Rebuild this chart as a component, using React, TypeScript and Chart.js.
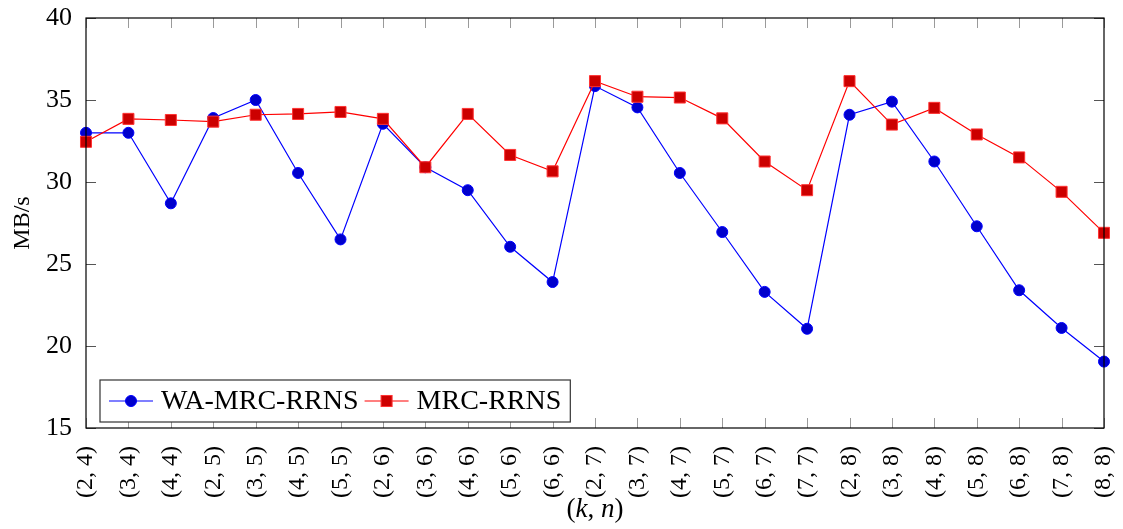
import { useEffect, useRef } from "react";
import { Chart, registerables } from "chart.js";

Chart.register(...registerables);

const categories = [
  "(2, 4)", "(3, 4)", "(4, 4)", "(2, 5)", "(3, 5)", "(4, 5)", "(5, 5)",
  "(2, 6)", "(3, 6)", "(4, 6)", "(5, 6)", "(6, 6)",
  "(2, 7)", "(3, 7)", "(4, 7)", "(5, 7)", "(6, 7)", "(7, 7)",
  "(2, 8)", "(3, 8)", "(4, 8)", "(5, 8)", "(6, 8)", "(7, 8)", "(8, 8)",
];

const waMrcRrns = [
  33.0, 33.0, 28.7, 33.9, 35.0, 30.55, 26.5,
  33.55, 30.9, 29.5, 26.05, 23.9,
  35.85, 34.55, 30.55, 26.95, 23.3, 21.05,
  34.1, 34.9, 31.25, 27.3, 23.4, 21.1, 19.05,
];

const mrcRrns = [
  32.45, 33.85, 33.78, 33.68, 34.1, 34.15, 34.27,
  33.85, 30.9, 34.15, 31.65, 30.65,
  36.15, 35.2, 35.15, 33.88, 31.25, 29.5,
  36.15, 33.5, 34.52, 32.9, 31.5, 29.4, 26.9,
];

const seriesLabels = ["WA-MRC-RRNS", "MRC-RRNS"];
const yAxisTitle = "MB/s";
const xTitleParts: [string, boolean][] = [["(", false], ["k", true], [", ", false], ["n", true], [")", false]];
const yMin = 15;
const yMax = 40;
const yStep = 5;

const FONT = "'Liberation Serif', 'DejaVu Serif', serif";

const framePlugin = {
  id: "frameTicks",
  afterDatasetsDraw(chart: any) {
    const { ctx, chartArea: a, scales } = chart;
    ctx.save();
    const tl = 10;
    ctx.strokeStyle = "#9a9a9a";
    ctx.lineWidth = 1;
    const xs = scales.x;
    for (let i = 0; i < xs.ticks.length; i++) {
      const px = Math.round(xs.getPixelForTick(i)) + 0.5;
      ctx.beginPath();
      ctx.moveTo(px, a.bottom);
      ctx.lineTo(px, a.bottom - tl);
      ctx.moveTo(px, a.top);
      ctx.lineTo(px, a.top + tl);
      ctx.stroke();
    }
    const ys = scales.y;
    ctx.strokeStyle = "#555";
    for (let i = 0; i < ys.ticks.length; i++) {
      const py = Math.round(ys.getPixelForTick(i)) + 0.5;
      ctx.beginPath();
      ctx.moveTo(a.left, py);
      ctx.lineTo(a.left + tl, py);
      ctx.moveTo(a.right, py);
      ctx.lineTo(a.right - tl, py);
      ctx.stroke();
    }
    ctx.restore();
  },
  afterDraw(chart: any) {
    const { ctx, chartArea: a } = chart;
    ctx.save();
    ctx.strokeStyle = "#000";
    ctx.lineWidth = 1.2;
    ctx.strokeRect(a.left, a.top, a.right - a.left, a.bottom - a.top);

    // x title with italic variables
    const size = 27;
    let total = 0;
    const widths: number[] = [];
    for (const [t, it] of xTitleParts) {
      ctx.font = `${it ? "italic " : ""}${size}px ${FONT}`;
      const w = ctx.measureText(t).width;
      widths.push(w);
      total += w;
    }
    let x = (a.left + a.right) / 2 - total / 2;
    ctx.fillStyle = "#000";
    ctx.textBaseline = "middle";
    ctx.textAlign = "left";
    xTitleParts.forEach(([t, it], i) => {
      ctx.font = `${it ? "italic " : ""}${size}px ${FONT}`;
      ctx.fillText(t, x, 510);
      x += widths[i];
    });

    // legend inside plot, bottom-left
    const ds = chart.data.datasets;
    const lsize = 28;
    ctx.font = `${lsize}px ${FONT}`;
    const lineLen = 44;
    const gapText = 8;
    const gapItem = 6;
    const padX = 9;
    const h = 42;
    let w = padX * 2;
    const tws = ds.map((d: any) => ctx.measureText(d.label).width);
    ds.forEach((_: any, i: number) => {
      w += lineLen + gapText + tws[i] + (i < ds.length - 1 ? gapItem : 0);
    });
    const bx = a.left + 14;
    const by = a.bottom - 6 - h;
    ctx.fillStyle = "#fff";
    ctx.fillRect(bx, by, w, h);
    ctx.strokeStyle = "#333";
    ctx.lineWidth = 1.2;
    ctx.strokeRect(bx, by, w, h);
    let cx = bx + padX;
    const cy = by + h / 2;
    ds.forEach((d: any, i: number) => {
      ctx.strokeStyle = d.borderColor;
      ctx.lineWidth = d.borderWidth;
      ctx.beginPath();
      ctx.moveTo(cx, cy);
      ctx.lineTo(cx + lineLen, cy);
      ctx.stroke();
      ctx.fillStyle = d.pointBackgroundColor;
      ctx.strokeStyle = d.pointBorderColor;
      ctx.lineWidth = 1;
      const mx = cx + lineLen / 2;
      if (d.pointStyle === "rect") {
        const s = d.pointRadius * Math.SQRT1_2;
        ctx.fillRect(mx - s, cy - s, 2 * s, 2 * s);
        ctx.strokeRect(mx - s, cy - s, 2 * s, 2 * s);
      } else {
        ctx.beginPath();
        ctx.arc(mx, cy, d.pointRadius, 0, Math.PI * 2);
        ctx.fill();
        ctx.stroke();
      }
      ctx.fillStyle = "#000";
      ctx.font = `${lsize}px ${FONT}`;
      ctx.textAlign = "left";
      ctx.textBaseline = "middle";
      ctx.fillText(d.label, cx + lineLen + gapText, cy + 1);
      cx += lineLen + gapText + tws[i] + gapItem;
    });
    ctx.restore();
  },
};

export default function App() {
  const ref = useRef<HTMLCanvasElement | null>(null);
  useEffect(() => {
    document.body.style.margin = "0";
    const canvas = ref.current;
    if (!canvas) return;
    const chart = new Chart(canvas, {
      type: "line",
      data: {
        labels: categories,
        datasets: [
          {
            label: seriesLabels[0],
            data: waMrcRrns,
            borderColor: "#0000ff",
            borderWidth: 1.2,
            pointBackgroundColor: "#0000cc",
            pointBorderColor: "#0000ff",
            pointBorderWidth: 1,
            pointRadius: 5.5,
            pointStyle: "circle",
            order: 1,
          },
          {
            label: seriesLabels[1],
            data: mrcRrns,
            borderColor: "#ff0000",
            borderWidth: 1.2,
            pointBackgroundColor: "#cc0000",
            pointBorderColor: "#ff3333",
            pointBorderWidth: 1,
            pointRadius: 7.8,
            pointStyle: "rect",
            order: 0,
          },
        ] as any,
      },
      options: {
        animation: false,
        responsive: false,
        maintainAspectRatio: false,
        layout: { padding: { top: 18, right: 19, left: 0, bottom: 0 } },
        plugins: { legend: { display: false }, tooltip: { enabled: false } },
        scales: {
          x: {
            type: "category",
            offset: false,
            grid: { display: false },
            border: { display: false },
            ticks: {
              color: "#000",
              font: { family: FONT, size: 24 },
              maxRotation: 90,
              minRotation: 90,
              autoSkip: false,
              padding: 10,
            },
            afterFit: (s: any) => {
              s.height = 101;
              s.paddingLeft = 0;
              s.paddingRight = 0;
            },
          },
          y: {
            min: yMin,
            max: yMax,
            grid: { display: false },
            border: { display: false },
            ticks: {
              stepSize: yStep,
              color: "#000",
              font: { family: FONT, size: 26 },
              padding: 6,
            },
            title: {
              display: true,
              text: yAxisTitle,
              color: "#000",
              font: { family: FONT, size: 24 },
              padding: { top: 8, bottom: 0 },
            },
            afterFit: (s: any) => {
              s.width = 86;
              s.paddingTop = 0;
              s.paddingBottom = 0;
            },
          },
        },
      },
      plugins: [framePlugin],
    });
    return () => chart.destroy();
  }, []);
  return <canvas ref={ref} width={1123} height={529} style={{ display: "block" }} />;
}
